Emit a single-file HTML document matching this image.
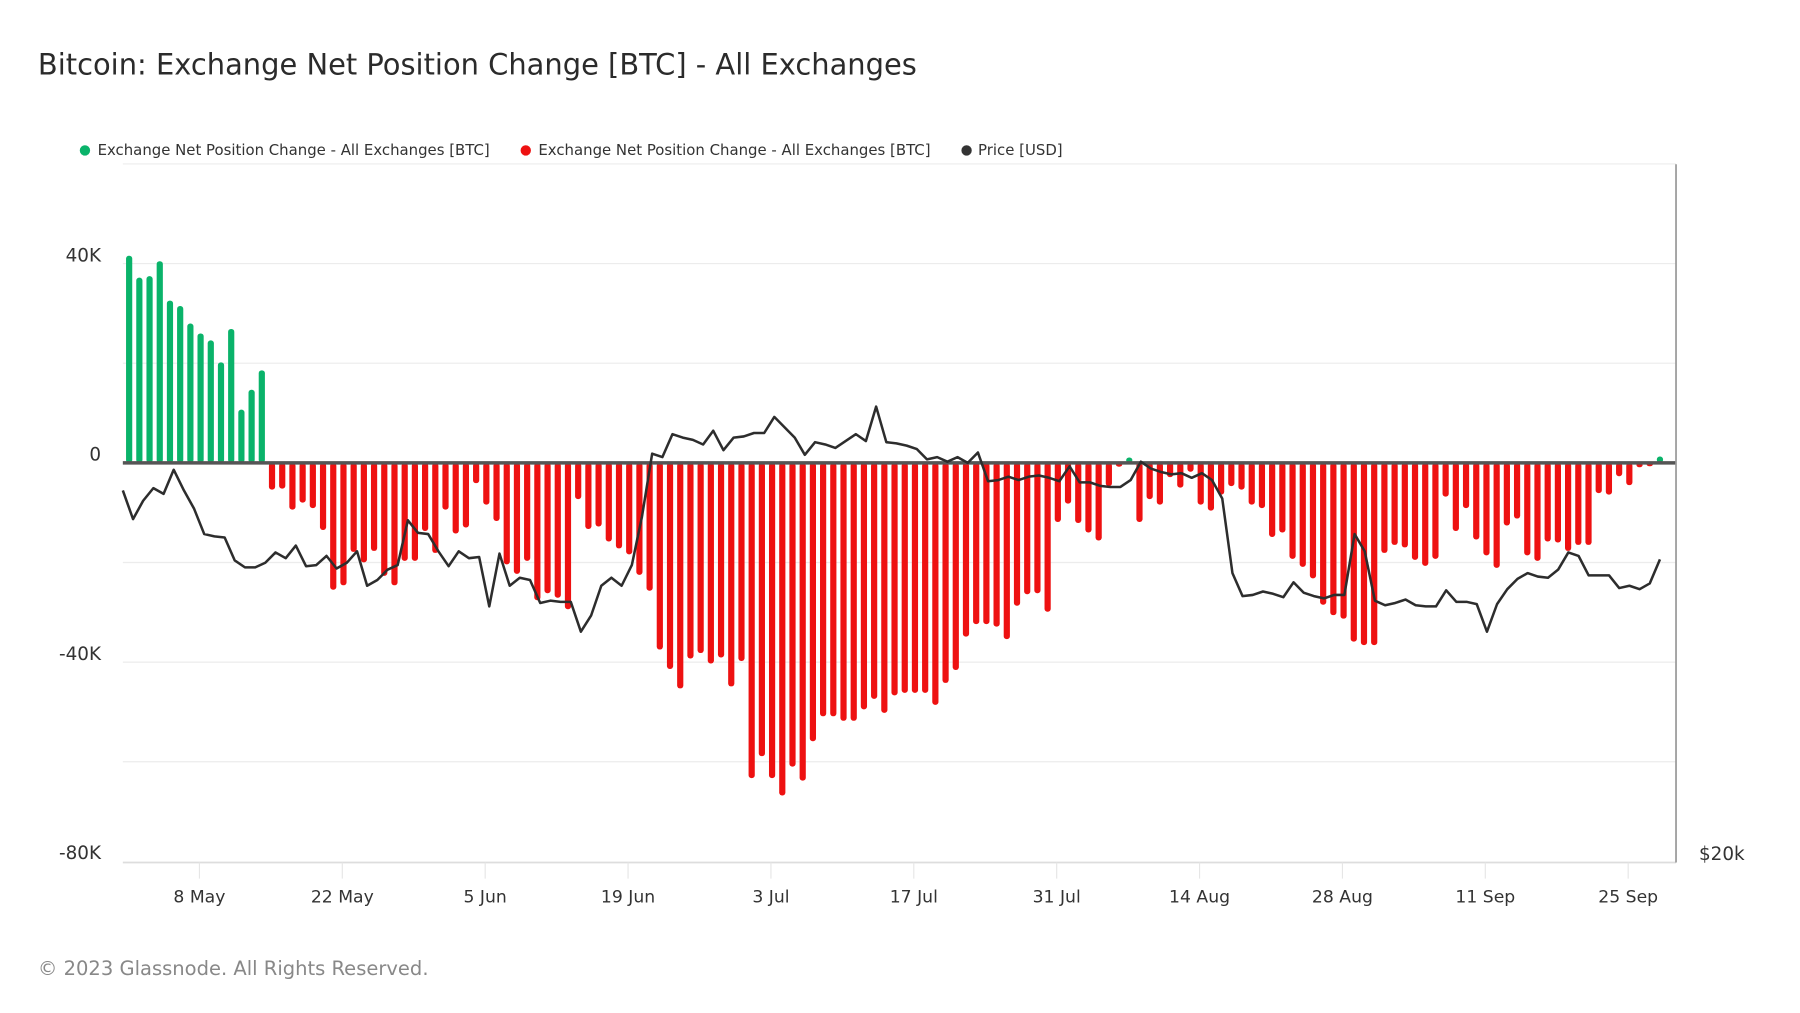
<!DOCTYPE html>
<html><head><meta charset="utf-8"><style>
html,body{margin:0;padding:0;background:#fff;}
svg{display:block;font-family:"DejaVu Sans","Liberation Sans",sans-serif;}
</style></head><body>
<svg id="chart" width="1800" height="1013" viewBox="0 0 1568 882" preserveAspectRatio="none" xmlns="http://www.w3.org/2000/svg">
<rect width="1568" height="882" fill="#fff"/>
<text x="33" y="65" font-size="25.2" fill="#2b2b2b">Bitcoin: Exchange Net Position Change [BTC] - All Exchanges</text>
<g font-size="13" fill="#333">
<g><circle cx="74" cy="131" r="4.5" fill="#0ab36a"/><text x="85" y="135">Exchange Net Position Change - All Exchanges [BTC]</text></g>
<g><circle cx="458" cy="131" r="4.5" fill="#ee1111"/><text x="469" y="135">Exchange Net Position Change - All Exchanges [BTC]</text></g>
<g><circle cx="842" cy="131" r="4.5" fill="#333"/><text x="852" y="135">Price [USD]</text></g>
</g>
<g id="grid"></g>
<g id="yticks" font-size="16" fill="#333" text-anchor="end"></g>
<g id="xticks" font-size="15" fill="#333" text-anchor="middle"></g>
<g id="bars"></g>
<line x1="107" y1="403" x2="1460" y2="403" stroke="#555" stroke-width="3"/>
<path id="price" fill="none" stroke="#2d2d2d" stroke-width="2.2" stroke-linejoin="round"/>
<line x1="1460" y1="143" x2="1460" y2="751" stroke="#999" stroke-width="1.5"/>
<text x="1480" y="749" font-size="16" fill="#333">$20k</text>
<text x="33" y="849" font-size="17" fill="#888">© 2023 Glassnode. All Rights Reserved.</text>
</svg>
<script>
const yTicks = [40000, 0, -40000, -80000];
const yTickLabels = ["40K", "0", "-40K", "-80K"];
const xTickDays = [7, 21, 35, 49, 63, 77, 91, 105, 119, 133, 147];
const xTickLabels = ["8 May","22 May","5 Jun","19 Jun","3 Jul","17 Jul","31 Jul","14 Aug","28 Aug","11 Sep","25 Sep"];
const netChangeK = [41,36.6,36.9,39.9,32,30.9,27.4,25.4,24,19.6,26.3,10.1,14.1,18,
-4.8,-4.6,-8.8,-7.4,-8.5,-12.9,-24.9,-24,-17.3,-19.4,-17.1,-22.1,-24,-19.1,-19.1,-13.1,
-17.5,-8.8,-13.6,-12.4,-3.5,-7.8,-11.1,-19.8,-21.7,-19.1,-27,-25.6,-26.5,-28.8,-6.7,
-12.7,-12.2,-15.2,-16.6,-17.8,-21.9,-25.1,-36.9,-40.8,-44.7,-38.7,-37.6,-39.7,-38.5,
-44.3,-39.2,-62.7,-58.3,-62.7,-66.2,-60.4,-63.2,-55.3,-50.3,-50.3,-51.2,-51.2,-48.9,
-46.8,-49.6,-46.1,-45.6,-45.6,-45.6,-48,-43.6,-41,-34.3,-31.8,-31.8,-32.3,-34.8,-28.1,
-25.8,-25.6,-29.3,-11.3,-7.6,-11.5,-13.4,-15,-4.1,-0.2,0.5,-11.3,-6.7,-7.8,-2.3,-4.4,
-1.2,-7.8,-9,-5.8,-4.1,-4.8,-7.8,-8.5,-14.3,-13.4,-18.7,-20.3,-22.6,-27.9,-30,-30.7,
-35.3,-36,-36,-17.5,-15.9,-16.4,-18.9,-20.1,-18.7,-6.2,-13.1,-8.5,-14.8,-18,-20.5,-12,
-10.6,-18,-19.1,-15.2,-15.4,-17.1,-15.9,-15.9,-5.5,-5.8,-2.1,-3.9,-0.3,-0.1,0.7];
const priceUsd = [28100,27475,27875,28150,28025,28550,28100,27700,27150,27100,27075,26575,26425,26425,26525,26750,26625,26900,26450,26475,26675,26400,26525,26775,26025,26150,26375,26475,27450,27175,27150,26775,26450,26775,26625,26650,25575,26725,26025,26200,26150,25650,25700,25675,25675,25025,25375,26025,26200,26025,26475,27525,28900,28825,29325,29250,29200,29100,29400,28975,29250,29275,29350,29350,29700,29475,29250,28875,29150,29100,29025,29175,29325,29175,29925,29150,29125,29075,29000,28775,28825,28725,28825,28700,28925,28300,28325,28400,28325,28400,28425,28375,28300,28625,28275,28275,28200,28175,28175,28325,28725,28575,28500,28450,28475,28375,28475,28325,27925,26300,25800,25825,25900,25850,25775,26100,25875,25800,25750,25825,25825,27150,26775,25700,25600,25650,25725,25600,25575,25575,25925,25675,25675,25625,25025,25625,25950,26175,26300,26225,26200,26375,26750,26675,26250,26250,26250,25975,26025,25950,26075,26600];

const NS = "http://www.w3.org/2000/svg";
const yScale = v => 403 - v / 40000 * 173.5;
const xDay = d => 112.5 + d * 8.89;
const pScale = p => 751 - (p - 20000) / 25;
const pX = i => 107 + i * (1446 - 107) / (priceUsd.length - 1);

const grid = document.getElementById('grid');
[60000, 40000, 20000, -20000, -40000, -60000].forEach(v => {
  const l = document.createElementNS(NS, 'line');
  
  
  l.setAttribute('x1', 107); l.setAttribute('x2', 1460);
  l.setAttribute('y1', yScale(v)); l.setAttribute('y2', yScale(v));
  l.setAttribute('stroke', '#ececec'); l.setAttribute('stroke-width', 1);
  grid.appendChild(l);
});
const bl = document.createElementNS(NS, 'line');


bl.setAttribute('x1', 107); bl.setAttribute('x2', 1460); bl.setAttribute('y1', 751); bl.setAttribute('y2', 751);
bl.setAttribute('stroke', '#ddd'); bl.setAttribute('stroke-width', 1.5);
grid.appendChild(bl);

const yt = document.getElementById('yticks');
yTicks.forEach((v, i) => {
  const t = document.createElementNS(NS, 'text');
  
  
  t.setAttribute('x', 88); t.setAttribute('y', yScale(v) - 2);
  t.textContent = yTickLabels[i];
  yt.appendChild(t);
});
const xt = document.getElementById('xticks');
xTickDays.forEach((d, i) => {
  const x = xDay(d) - 1;
  const tk = document.createElementNS(NS, 'line');
  
  
  tk.setAttribute('x1', x); tk.setAttribute('x2', x); tk.setAttribute('y1', 751); tk.setAttribute('y2', 765);
  tk.setAttribute('stroke', '#e6e6e6');
  xt.appendChild(tk);
  const t = document.createElementNS(NS, 'text');
  
  
  t.setAttribute('x', x); t.setAttribute('y', 786);
  t.textContent = xTickLabels[i];
  xt.appendChild(t);
});

const bars = document.getElementById('bars');
netChangeK.forEach((k, i) => {
  const v = k * 1000;
  const x = xDay(i);
  const y0 = yScale(0), y1 = yScale(v);
  const r = document.createElementNS(NS, 'rect');
  
  
  r.setAttribute('x', x - 2.7); r.setAttribute('width', 5.4);
  r.setAttribute('y', Math.min(y0, y1) - (v >= 0 ? 2.5 : 0));
  r.setAttribute('height', Math.abs(y1 - y0) + 2.5);
  r.setAttribute('rx', 2.5);
  r.setAttribute('fill', v >= 0 ? '#0ab36a' : '#ee1111');
  bars.appendChild(r);
});

document.getElementById('price').setAttribute('d',
  priceUsd.map((p, i) => (i ? 'L' : 'M') + pX(i).toFixed(1) + ' ' + pScale(p).toFixed(1)).join(' '));
</script>
</body></html>
